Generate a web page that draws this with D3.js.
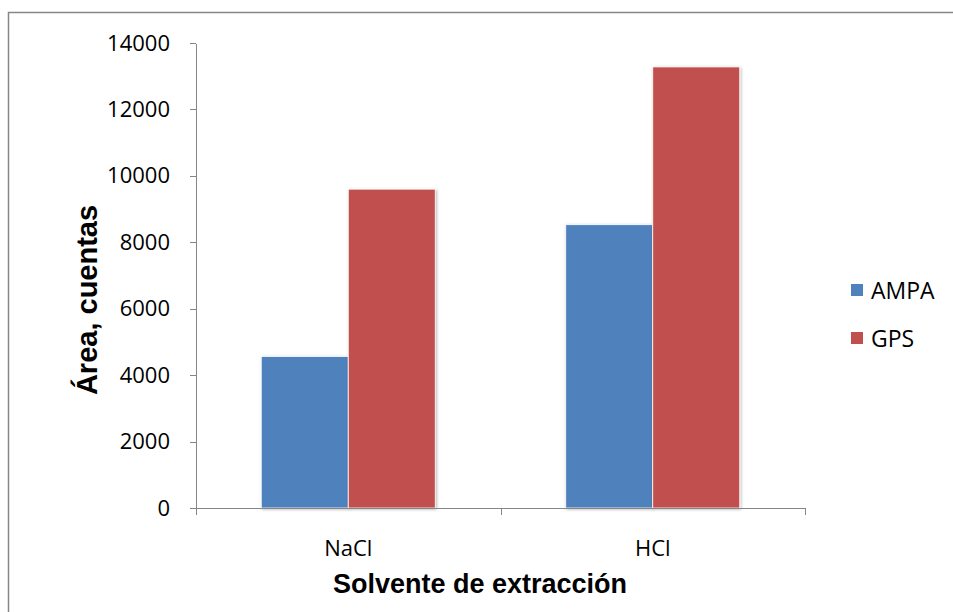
<!DOCTYPE html>
<html>
<head>
<meta charset="utf-8">
<script src="https://cdn.jsdelivr.net/npm/d3@7"></script>
<style>
  body { margin: 0; background: #fff; }
  .axis path, .axis line { stroke: #868686; shape-rendering: crispEdges; }
  .axis text { font-family: "Open Sans", Lato, sans-serif; font-size: 22px; fill: #000; }
</style>
</head>
<body>
<script>
const categories = ["NaCl", "HCl"];
const seriesNames = ["AMPA", "GPS"];
const ampaValues = [4560, 8530];
const gpsValues = [9600, 13280];
const yTicks = [0, 2000, 4000, 6000, 8000, 10000, 12000, 14000];
const colors = ["#4F81BD", "#C0504D"];

const width = 953, height = 612;
const svg = d3.select("body").append("svg")
  .attr("width", width).attr("height", height);

// chart border
svg.append("rect")
  .attr("x", 8.5).attr("y", 12.5)
  .attr("width", 960).attr("height", 620)
  .attr("fill", "none").attr("stroke", "#868686").attr("stroke-width", 1.5);

const pLeft = 196, pRight = 805, pTop = 43, pBottom = 508;

const x0 = d3.scaleBand().domain(categories).range([pLeft, pRight]).paddingInner(0).paddingOuter(0);
const x1 = d3.scaleBand().domain(seriesNames).range([0, x0.bandwidth()]).paddingOuter(0.75).paddingInner(0);
const y = d3.scaleLinear().domain([0, 14000]).range([pBottom, pTop]);

const defs = svg.append("defs");
const f = defs.append("filter").attr("id", "sh").attr("x", "-20%").attr("y", "-20%").attr("width", "140%").attr("height", "140%");
f.append("feDropShadow").attr("dx", 1).attr("dy", 1).attr("stdDeviation", 1.5).attr("flood-color", "#000").attr("flood-opacity", 0.3);

const rows = categories.map((c, i) => ({ cat: c, vals: [ampaValues[i], gpsValues[i]] }));

const groups = svg.selectAll("g.cat").data(rows).enter().append("g")
  .attr("class", "cat")
  .attr("transform", d => "translate(" + x0(d.cat) + ",0)");

groups.selectAll("rect").data(d => d.vals.map((v, j) => ({ s: seriesNames[j], v: v, j: j })))
  .enter().append("rect")
  .attr("x", d => x1(d.s))
  .attr("y", d => y(d.v))
  .attr("width", x1.bandwidth())
  .attr("height", d => pBottom - y(d.v))
  .attr("fill", d => colors[d.j])
  .attr("stroke", "#fff").attr("stroke-width", 0.8)
  .attr("filter", "url(#sh)");

// y axis
const yAxis = d3.axisLeft(y).tickValues(yTicks).tickSize(6).tickSizeOuter(0).tickPadding(20).tickFormat(d3.format("d"));
svg.append("g").attr("class", "axis").attr("transform", "translate(" + pLeft + ",0)").call(yAxis);

// x axis with boundary ticks
const xAxis = d3.axisBottom(x0).tickSize(0).tickSizeOuter(0).tickPadding(32);
const gx = svg.append("g").attr("class", "axis").attr("transform", "translate(0," + pBottom + ")").call(xAxis);
gx.select(".domain").attr("d", "M" + pLeft + ",0H" + pRight);
const bounds = [pLeft].concat(categories.map(c => x0(c) + x0.bandwidth()));
gx.selectAll("line.bnd").data(bounds).enter().append("line")
  .attr("class", "bnd")
  .attr("x1", d => Math.round(d) + 0.5).attr("x2", d => Math.round(d) + 0.5)
  .attr("y1", 0).attr("y2", 7)
  .attr("stroke", "#868686");

// axis titles
svg.append("text")
  .attr("x", 480).attr("y", 593)
  .attr("text-anchor", "middle")
  .attr("font-family", "Liberation Sans, Arial, sans-serif")
  .attr("font-weight", "bold").attr("font-size", 27)
  .text("Solvente de extracción");

svg.append("text")
  .attr("transform", "translate(97,300) rotate(-90)")
  .attr("text-anchor", "middle")
  .attr("font-family", "Liberation Sans, Arial, sans-serif")
  .attr("font-weight", "bold").attr("font-size", 29)
  .text("Área, cuentas");

// legend
const legend = svg.selectAll("g.leg").data(seriesNames).enter().append("g")
  .attr("class", "leg")
  .attr("transform", (d, i) => "translate(851," + (284 + i * 48) + ")");
legend.append("rect").attr("width", 12).attr("height", 12)
  .attr("fill", (d, i) => colors[i]);
legend.append("text").attr("x", 20).attr("y", 15)
  .attr("font-family", "'Open Sans', Lato, sans-serif").attr("font-size", 23)
  .text(d => d);
</script>
</body>
</html>
